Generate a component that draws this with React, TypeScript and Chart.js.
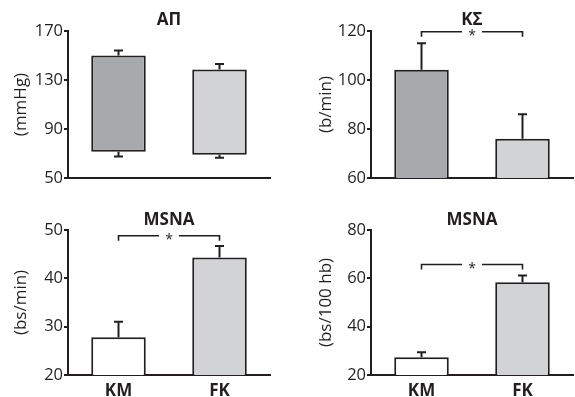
import React, { useEffect, useRef } from "react";
import { Chart, registerables } from "chart.js";

Chart.register(...registerables);

const INK = "#231f20";
const FONT = "'Open Sans', 'Noto Sans', sans-serif";

const groups = ["KM", "FK"];
const greyFills = ["#a7a9ac", "#d1d3d4"];
const msnaFills = ["#ffffff", "#d1d3d4"];

// Panel 1: АП (floating bars low..high)
const apTitle = "АП";
const apUnit = "(mmHg)";
const apLow = [71.5, 69];
const apHigh = [150, 138.5];
const apErrLow = [67.5, 66.5];
const apErrHigh = [154, 143];
const apTicks = [50, 90, 130, 170];

// Panel 2: ΚΣ
const hrTitle = "ΚΣ";
const hrUnit = "(b/min)";
const hrMean = [104.2, 76];
const hrErr = [115, 86];
const hrTicks = [60, 80, 100, 120];
const hrSig = 119.7;

// Panel 3: MSNA bs/min
const msnaMinTitle = "MSNA";
const msnaMinUnit = "(bs/min)";
const msnaMinMean = [27.8, 44.3];
const msnaMinErr = [31, 46.7];
const msnaMinTicks = [20, 30, 40, 50];
const msnaMinSig = 48.8;

// Panel 4: MSNA bs/100 hb
const msnaHbTitle = "MSNA";
const msnaHbUnit = "(bs/100 hb)";
const msnaHbMean = [27.3, 58.4];
const msnaHbErr = [29.4, 61.2];
const msnaHbTicks = [20, 40, 60, 80];
const msnaHbSig = 65.7;

type Box = { left: number; top: number; width: number; height: number };
type Layout = {
  yWidth: number;
  padRight: number;
  titlePadTop: number;
  titlePadBottom: number;
  xHeight: number;
  yTitlePad: number;
};

type PanelProps = {
  title: string;
  unit: string;
  low?: number[];
  high: number[];
  errLow?: number[];
  errHigh: number[];
  ticks: number[];
  colors: string[];
  sig?: number;
  showX: boolean;
  box: Box;
  layout: Layout;
};

function Panel(p: PanelProps) {
  const ref = useRef<HTMLCanvasElement | null>(null);
  useEffect(() => {
    if (!ref.current) return;
    const data = p.high.map((h, i) => (p.low ? [p.low[i], h] : h));
    const extras = {
      id: "extras",
      afterDatasetsDraw(chart: any) {
        const ctx = chart.ctx;
        const ys = chart.scales.y;
        const meta = chart.getDatasetMeta(0);
        ctx.save();
        ctx.strokeStyle = INK;
        ctx.lineWidth = 2;
        const bar = (x: number, from: number, to: number) => {
          const y0 = ys.getPixelForValue(from);
          const y1 = ys.getPixelForValue(to);
          ctx.beginPath();
          ctx.moveTo(x, y0);
          ctx.lineTo(x, y1);
          ctx.moveTo(x - 4.5, y1);
          ctx.lineTo(x + 4.5, y1);
          ctx.stroke();
        };
        meta.data.forEach((el: any, i: number) => {
          bar(el.x, p.high[i], p.errHigh[i]);
          if (p.low && p.errLow) bar(el.x, p.low[i], p.errLow[i]);
        });
        if (p.sig !== undefined && meta.data.length > 1) {
          const yb = ys.getPixelForValue(p.sig);
          const x0 = meta.data[0].x;
          const x1 = meta.data[1].x;
          const mid = (x0 + x1) / 2;
          const gap = 10;
          ctx.lineWidth = 1.6;
          ctx.beginPath();
          ctx.moveTo(x0, yb + 5);
          ctx.lineTo(x0, yb);
          ctx.lineTo(mid - gap, yb);
          ctx.moveTo(mid + gap, yb);
          ctx.lineTo(x1, yb);
          ctx.lineTo(x1, yb + 5);
          ctx.stroke();
          ctx.fillStyle = INK;
          ctx.font = `14px ${FONT}`;
          ctx.textAlign = "center";
          ctx.textBaseline = "middle";
          ctx.fillText("*", mid, yb + 4);
        }
        ctx.restore();
      },
    };
    const chart = new Chart(ref.current, {
      type: "bar",
      data: {
        labels: groups,
        datasets: [
          {
            data: data as any,
            backgroundColor: p.colors,
            borderColor: INK,
            borderWidth: 2,
            borderSkipped: false,
            barPercentage: 0.54,
            categoryPercentage: 1,
          },
        ],
      },
      options: {
        responsive: false,
        animation: false,
        layout: { padding: { left: 0, right: p.layout.padRight, top: 0, bottom: 0 } },
        plugins: {
          legend: { display: false },
          tooltip: { enabled: false },
          title: {
            display: true,
            text: p.title,
            fullSize: false,
            color: INK,
            font: { family: FONT, size: 17, weight: "bold", lineHeight: 1.1 },
            padding: { top: p.layout.titlePadTop, bottom: p.layout.titlePadBottom },
          },
        },
        scales: {
          x: {
            type: "category",
            offset: true,
            grid: { display: true, drawOnChartArea: false, drawTicks: false },
            border: { display: true, color: INK, width: 2 },
            ticks: {
              display: p.showX,
              color: INK,
              padding: 6,
              font: { family: FONT, size: 17, weight: "bold" },
            },
            afterFit: (s: any) => {
              s.height = p.layout.xHeight;
            },
          },
          y: {
            min: p.ticks[0],
            max: p.ticks[p.ticks.length - 1],
            grid: {
              display: true,
              drawOnChartArea: false,
              drawTicks: true,
              tickLength: 4,
              lineWidth: 2,
              color: INK,
            },
            border: { display: true, color: INK, width: 2 },
            ticks: {
              stepSize: p.ticks[1] - p.ticks[0],
              color: INK,
              padding: 1,
              font: { family: FONT, size: 16.5 },
            },
            title: {
              display: true,
              text: p.unit,
              color: INK,
              font: { family: FONT, size: 17, lineHeight: 1.2 },
              padding: { top: p.layout.yTitlePad, bottom: 0 },
            },
            afterFit: (s: any) => {
              s.width = p.layout.yWidth;
            },
          },
        },
      },
      plugins: [extras],
    });
    return () => chart.destroy();
  }, []);
  return (
    <canvas
      ref={ref}
      width={p.box.width}
      height={p.box.height}
      style={{
        position: "absolute",
        left: p.box.left,
        top: p.box.top,
        width: p.box.width,
        height: p.box.height,
        display: "block",
      }}
    />
  );
}

export default function App() {
  return (
    <div
      style={{
        position: "absolute",
        left: 0,
        top: 0,
        width: 575,
        height: 397,
        background: "#ffffff",
        overflow: "hidden",
      }}
    >
      <Panel
        title={apTitle}
        unit={apUnit}
        low={apLow}
        high={apHigh}
        errLow={apErrLow}
        errHigh={apErrHigh}
        ticks={apTicks}
        colors={greyFills}
        showX={false}
        box={{ left: 0, top: 0, width: 287, height: 198 }}
        layout={{ yWidth: 68, padRight: 17, titlePadTop: 11, titlePadBottom: 1.3, xHeight: 20, yTitlePad: 11 }}
      />
      <Panel
        title={hrTitle}
        unit={hrUnit}
        high={hrMean}
        errHigh={hrErr}
        ticks={hrTicks}
        colors={greyFills}
        sig={hrSig}
        showX={false}
        box={{ left: 287, top: 0, width: 288, height: 198 }}
        layout={{ yWidth: 84, padRight: 2, titlePadTop: 11, titlePadBottom: 1.3, xHeight: 20, yTitlePad: 29 }}
      />
      <Panel
        title={msnaMinTitle}
        unit={msnaMinUnit}
        high={msnaMinMean}
        errHigh={msnaMinErr}
        ticks={msnaMinTicks}
        colors={msnaFills}
        sig={msnaMinSig}
        showX={true}
        box={{ left: 0, top: 198, width: 287, height: 199 }}
        layout={{ yWidth: 68, padRight: 17, titlePadTop: 13.3, titlePadBottom: 0, xHeight: 22, yTitlePad: 11 }}
      />
      <Panel
        title={msnaHbTitle}
        unit={msnaHbUnit}
        high={msnaHbMean}
        errHigh={msnaHbErr}
        ticks={msnaHbTicks}
        colors={msnaFills}
        sig={msnaHbSig}
        showX={true}
        box={{ left: 287, top: 198, width: 288, height: 199 }}
        layout={{ yWidth: 84, padRight: 2, titlePadTop: 13.3, titlePadBottom: 0, xHeight: 22, yTitlePad: 29 }}
      />
    </div>
  );
}
